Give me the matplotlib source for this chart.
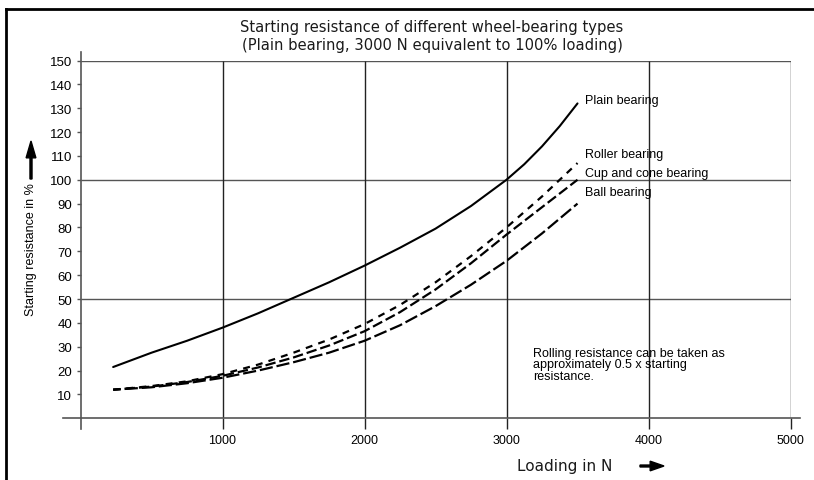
import matplotlib
matplotlib.use("Agg")
import matplotlib.pyplot as plt
from matplotlib.lines import Line2D

plt.rcParams['font.family'] = ['Liberation Sans', 'DejaVu Sans']
plt.rcParams['lines.scale_dashes'] = False

# ---- data ----
plain_x = [230, 500, 750, 1000, 1250, 1500, 1750, 2000, 2250, 2500, 2750, 3000, 3125, 3250, 3375, 3500]
plain_y = [21.5, 27.5, 32.5, 38, 44, 50.5, 57, 64, 71.5, 79.5, 89, 100, 106.5, 114, 122.5, 132]

low_x = [230, 500, 750, 1000, 1250, 1500, 1750, 2000, 2250, 2500, 2750, 3000, 3250, 3500]
roller_y = [12, 13.5, 15.5, 18.5, 22.5, 27.5, 33, 39.5, 47.5, 57, 68, 80, 93, 107]
cup_y = [12, 13.3, 15.2, 17.8, 21.3, 25.5, 30.5, 36.5, 44.5, 54, 65, 77, 88.5, 100]
ball_y = [12, 13, 14.7, 17, 20, 23.5, 27.5, 32.5, 39, 47, 56, 66, 77.5, 90]

series_names = ["Plain bearing", "Roller bearing", "Cup and cone bearing", "Ball bearing"]
label_y = [133.5, 111, 103, 95]

x_ticks = [1000, 2000, 3000, 4000, 5000]
y_ticks = list(range(10, 151, 10))
grid_y = [50, 100, 150]

title = ("Starting resistance of different wheel-bearing types\n"
         "(Plain bearing, 3000 N equivalent to 100% loading)")
note = "Rolling resistance can be taken as\napproximately 0.5 x starting\nresistance."

# ---- figure ----
fig = plt.figure(figsize=(8.14, 4.81), dpi=100)
ax = fig.add_axes([80.5 / 814, 1 - 419.3 / 481, 710 / 814, (419.3 - 61.5) / 481])
ax.set_xlim(0, 5000)
ax.set_ylim(0, 150)
for s in ax.spines.values():
    s.set_visible(False)

gc = '#555555'
# grid
ax.hlines(grid_y, 0, 5000, color=gc, lw=1.0)
ax.vlines(x_ticks, 0, 150, color='#222222', lw=1.0)
# axes lines extending past origin
ax.plot([-125, 5065], [0, 0], color=gc, lw=1.2, clip_on=False)
ax.plot([0, 0], [-4.3, 153.5], color=gc, lw=1.2, clip_on=False)

# ticks
ax.set_xticks(x_ticks)
ax.set_xticklabels([str(v) for v in x_ticks])
ax.set_yticks(y_ticks)
ax.set_yticklabels([str(v) for v in y_ticks])
ax.tick_params(axis='x', direction='out', length=8, width=1.0, color='#222222',
               pad=3, labelsize=9)
ax.tick_params(axis='y', direction='out', length=3, width=1.0, color=gc,
               pad=3, labelsize=9.5)

# curves
ax.plot(plain_x, plain_y, color='black', lw=1.5, solid_capstyle='round')
ax.plot(low_x, roller_y, color='black', lw=1.6, linestyle=(0, (5, 4.5)))
ax.plot(low_x, cup_y, color='black', lw=1.6, linestyle=(2, (7.5, 2.8)))
ax.plot(low_x, ball_y, color='black', lw=1.6, linestyle=(4, (9.5, 2.8)))

for name, yv in zip(series_names, label_y):
    ax.text(3553, yv, name, fontsize=9, va='center', ha='left')

ax.text(3187, 30, note, fontsize=9, va='top', ha='left', linespacing=0.95)

# title
fig.text(432 / 814, 1 - 36.5 / 481, title, ha='center', va='center', fontsize=10.6,
         family='DejaVu Sans', linespacing=1.32, color='#1a1a1a')

# axis labels
fig.text(565 / 814, 1 - 466 / 481, "Loading in N", ha='center', va='center',
         fontsize=11, family='DejaVu Sans', color='#1a1a1a')
fig.add_artist(matplotlib.patches.FancyArrow(640 / 814, 1 - 467 / 481, 24 / 814, 0,
               width=0.004, head_width=0.02, head_length=0.017, color='black',
               length_includes_head=True, transform=fig.transFigure))
fig.text(31 / 814, 1 - 250 / 481, "Starting resistance in %", ha='center', va='center',
         rotation=90, fontsize=9)
fig.add_artist(matplotlib.patches.FancyArrow(31 / 814, 1 - 180 / 481, 0, 38 / 481,
               width=0.0025, head_width=0.012, head_length=0.035, color='black',
               length_includes_head=True, transform=fig.transFigure))

# frame
fig.add_artist(Line2D([6 / 814, 6 / 814], [0, 1 - 10 / 481], color='black', lw=2,
                      transform=fig.transFigure))
fig.add_artist(Line2D([6 / 814, 1], [1 - 10 / 481, 1 - 10 / 481], color='black', lw=2,
                      transform=fig.transFigure))

fig.savefig("out.png", dpi=100)
